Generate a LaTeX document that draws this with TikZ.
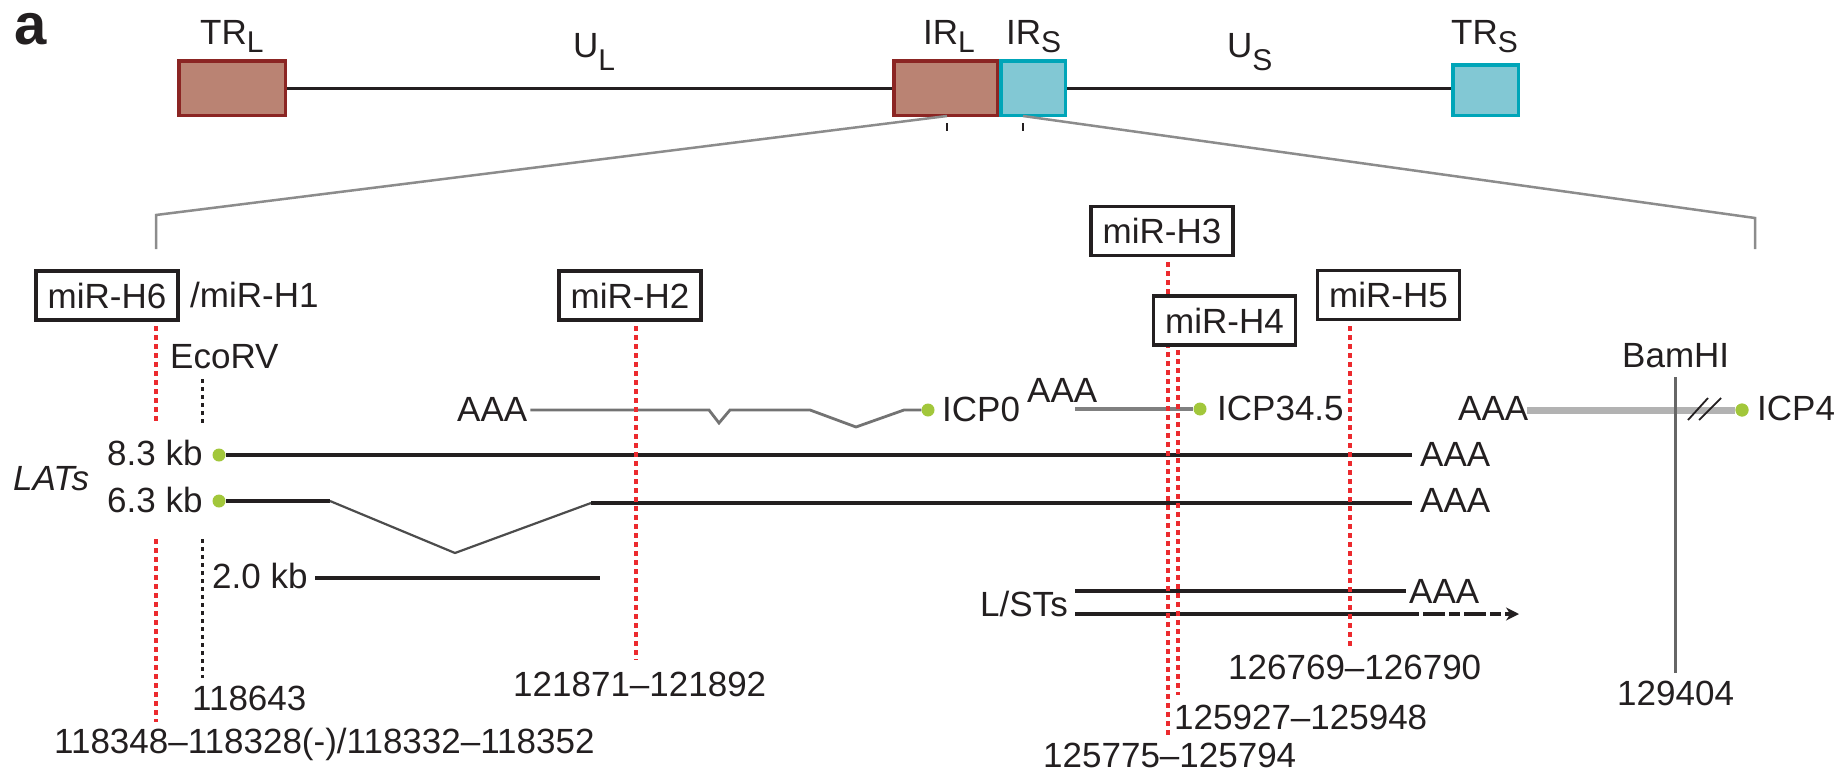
\documentclass[tikz,border=0pt]{standalone}
\usepackage{fontspec}
\setmainfont{Liberation Sans}
\usetikzlibrary{arrows.meta}
\definecolor{trfill}{HTML}{BA8373}
\definecolor{trdraw}{HTML}{8B2523}
\definecolor{irfill}{HTML}{82C8D4}
\definecolor{irdraw}{HTML}{00A5B8}
\definecolor{mired}{HTML}{EC2A2E}
\definecolor{dotgreen}{HTML}{A2C73B}
\definecolor{ink}{HTML}{231F20}
\newcommand\trsub[1]{\raisebox{-8pt}{\fontsize{30}{30}\selectfont #1}}
\newcommand\usub[1]{\raisebox{-13pt}{\fontsize{30}{30}\selectfont #1}}
\begin{document}
\begin{tikzpicture}[x=1pt,y=-1pt,
  lbl/.style={font=\fontsize{35}{40}\selectfont, text=ink, inner sep=0pt, anchor=base west},
  region/.style={line width=3.5pt, inner sep=0pt},
  trbox/.style={region, draw=trdraw, fill=trfill},
  irbox/.style={region, draw=irdraw, fill=irfill},
  mirbox/.style={draw=ink, line width=3.5pt, fill=white, minimum width=142pt, minimum height=49pt, inner sep=0pt, font=\fontsize{35}{40}\selectfont, text=ink},
  redline/.style={draw=mired, line width=3.5pt, dash pattern=on 4.5pt off 4.5pt},
  ecoline/.style={draw=ink, line width=3pt, dash pattern=on 3.5pt off 4.5pt},
  gdot/.style={circle, fill=dotgreen, inner sep=0pt, minimum size=13pt},
  track/.style={draw=ink, line width=4pt},
  spliceline/.style={draw=black!70, line width=2.2pt},
  genome/.style={draw=ink, line width=3pt},
  zoomline/.style={draw=black!45, line width=2.5pt},
  tickmark/.style={draw=ink, line width=2.5pt},
]
\useasboundingbox (0,0) rectangle (1845,771);

% panel letter
\node[lbl, font=\fontsize{58}{60}\selectfont\bfseries] (pa) at (14,44) {a};

% genome map
\node[trbox, minimum width=106.5pt, minimum height=54.5pt] (TRL) at (232,88) {};
\node[trbox, minimum width=103.5pt, minimum height=54.5pt] (IRL) at (945.5,88) {};
\node[irbox, minimum width=64.5pt, minimum height=54.5pt] (IRS) at (1033,88) {};
\node[irbox, minimum width=65.5pt, minimum height=50.5pt] (TRS) at (1485.5,90) {};
\draw[genome] (TRL.east) -- (IRL.west);
\draw[genome] (IRS.east) -- (IRS.east -| TRS.west);

\node[lbl] (lTRL) at (200,44) {TR\trsub{L}};
\node[lbl] (lUL) at (573,57) {U\usub{L}};
\node[lbl] (lIRL) at (923,44) {IR\trsub{L}};
\node[lbl] (lIRS) at (1006,44) {IR\trsub{S}};
\node[lbl] (lUS) at (1227,57) {U\usub{S}};
\node[lbl] (lTRS) at (1451,44) {TR\trsub{S}};

% zoom brackets
\coordinate (tkL) at (947,123);
\coordinate (tkR) at (1023,123);
\coordinate (bL) at (156,215);
\coordinate (bR) at (1755,218);
\draw[tickmark] (tkL) -- ++(0,8);
\draw[tickmark] (tkR) -- ++(0,8);
\draw[zoomline] ([yshift=7pt]tkL) -- (bL) -- ++(0,34);
\draw[zoomline] ([yshift=7pt]tkR) -- (bR) -- ++(0,31);

% miRNA boxes
\node[mirbox] (H6) at (107,295.5) {miR-H6};
\node[lbl] (H1) at (190,307) {/miR-H1};
\node[mirbox] (H2) at (630,295.5) {miR-H2};
\node[mirbox] (H3) at (1162,231) {miR-H3};
\node[mirbox] (H5) at (1388.5,295) {miR-H5};

% restriction sites
\node[lbl] (eco) at (170,368) {EcoRV};
\node[lbl] (bam) at (1622,367) {BamHI};

% ICP0
\node[lbl] (a0) at (457,421) {AAA};
\node[gdot] (d0) at (928,410) {};
\node[lbl] (icp0) at (942,421) {ICP0};
\draw[draw=black!55, line width=2.8pt] (a0.east |- d0) ++(3,0) -- (709,410) -- (719,423) -- (730,410) -- (810,410) -- (856,427) -- (904,410) -- (d0);

% ICP34.5
\node[lbl] (a345) at (1027,402) {AAA};
\node[gdot] (d345) at (1200,409) {};
\node[lbl] (icp345) at (1217,420) {ICP34.5};
\draw[draw=black!50, line width=4pt] (1075,409) -- (d345);

% ICP4
\node[lbl] (a4) at (1458,420) {AAA};
\node[gdot] (d4) at (1742,410) {};
\node[lbl] (icp4) at (1757,420) {ICP4};
\draw[draw=black!30, line width=7pt] (1527,410) -- (d4);
\draw[draw=black!60, line width=3pt] (1675,377) -- (1675,673);
\draw[draw=ink, line width=1.8pt] (1688,420) -- (1708,398);
\draw[draw=ink, line width=1.8pt] (1699,420) -- (1721,398);
\node[gdot] at (1742,410) {};

% LATs
\node[lbl] (k83) at (107,465) {8.3 kb};
\node[lbl, font=\fontsize{35}{40}\selectfont\itshape] (lats) at (13,490) {LATs};
\node[lbl] (k63) at (107,512) {6.3 kb};
\node[gdot] (d83) at (219,455) {};
\node[gdot] (d63) at (219,501) {};
\coordinate (e83) at (1412,455);
\coordinate (e63) at (1412,503);
\draw[track] (d83) -- (e83);
\draw[track] (d63) -- (330,501);
\draw[spliceline] (330,501) -- (455,553) -- (591,503);
\draw[track] (591,503) -- (e63);
\node[lbl] (a83) at (1420,466) {AAA};
\node[lbl] (a63) at (1420,512) {AAA};
\node[lbl] (k20) at (212,588) {2.0 kb};
\draw[draw=ink, line width=4.5pt] (315,578) -- (600,578);

% L/STs
\node[lbl] (lst) at (980,616) {L/STs};
\draw[track] (1075,591) -- (1406,591);
\node[lbl] (alst) at (1409,603) {AAA};
\draw[track] (1075,614) -- (1408,614);
\draw[draw=ink, line width=4pt, dash pattern=on 11pt off 4pt on 22pt off 4pt, -{Stealth[length=13pt,width=13pt]}] (1408,614) -- (1519,614);

% coordinates
\node[lbl] (n118643) at (192,710) {118643};
\node[lbl] (n118348) at (54,753) {118348--118328(-)/118332--118352};
\node[lbl] (n121871) at (513,696) {121871--121892};
\node[lbl] (n126769) at (1228,679) {126769--126790};
\node[lbl] (n125927) at (1174,729) {125927--125948};
\node[lbl] (n125775) at (1043,767) {125775--125794};
\node[lbl] (n129404) at (1617,705) {129404};

% dotted site lines
\draw[redline] (156,326) -- (156,422);
\draw[redline] (156,539) -- (156,722);
\draw[ecoline] (202,379) -- (202,423);
\draw[ecoline] (202,539) -- (202,678);
\draw[redline] (636,326) -- (636,660);
\draw[redline] (1168,262) -- (1168,736);
\draw[redline] (1350,326) -- (1350,650);
\node[mirbox] (H4) at (1224.5,320.5) {miR-H4};
\draw[redline] (1178,350) -- (1178,695);
\end{tikzpicture}
\end{document}
